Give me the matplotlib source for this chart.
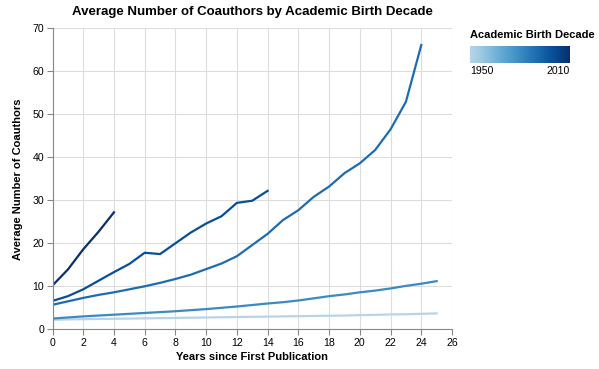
import numpy as np
import matplotlib.pyplot as plt
from matplotlib.colors import LinearSegmentedColormap

plt.rcParams['font.family'] = ['Liberation Sans', 'DejaVu Sans']

# academic birth decade of each line
decades = [1950, 1980, 1990, 2000, 2010]

# average number of coauthors per year since first publication
coauthors = {
    1950: [2.2, 2.3, 2.35, 2.4, 2.45, 2.5, 2.55, 2.6, 2.65, 2.7, 2.75, 2.8, 2.85,
           2.9, 2.95, 3.0, 3.05, 3.1, 3.15, 3.2, 3.3, 3.35, 3.45, 3.5, 3.6, 3.7],
    1980: [2.5, 2.75, 3.0, 3.2, 3.4, 3.6, 3.8, 4.0, 4.2, 4.45, 4.7, 5.0, 5.3,
           5.65, 6.0, 6.3, 6.7, 7.2, 7.7, 8.1, 8.6, 9.0, 9.5, 10.1, 10.6, 11.2],
    1990: [5.7, 6.5, 7.3, 8.0, 8.6, 9.3, 10.0, 10.8, 11.7, 12.7, 14.0, 15.3, 17.0,
           19.6, 22.2, 25.4, 27.7, 30.8, 33.2, 36.3, 38.6, 41.7, 46.5, 52.9, 66.1],
    2000: [6.6, 7.7, 9.3, 11.3, 13.3, 15.2, 17.8, 17.5, 20.0, 22.5, 24.6, 26.3,
           29.4, 29.9, 32.2],
    2010: [10.2, 13.9, 18.6, 22.7, 27.2],
}

x_ticks = list(range(0, 27, 2))
y_ticks = list(range(0, 71, 10))

# light-to-dark blues like the vega scheme
cmap = LinearSegmentedColormap.from_list(
    'blues', plt.cm.Blues(np.linspace(0.3, 1.0, 256)))

fig = plt.figure(figsize=(5.99, 3.69), dpi=100)
ax = fig.add_axes([52.5 / 599, 39.7 / 369, 399.5 / 599, 301 / 369])

for d in decades:
    vals = coauthors[d]
    t = (d - decades[0]) / (decades[-1] - decades[0])
    ax.plot(range(len(vals)), vals, color=cmap(t), lw=1.6)

ax.set_xlim(0, 26)
ax.set_ylim(0, 70)
ax.set_xticks(x_ticks)
ax.set_yticks(y_ticks)
ax.grid(True, color='#dddddd', lw=0.8)
ax.set_axisbelow(True)
for s in ['top', 'right']:
    ax.spines[s].set_visible(False)
for s in ['left', 'bottom']:
    ax.spines[s].set_color('#888888')
ax.tick_params(colors='#888888', length=4, labelcolor='black', labelsize=7.6, pad=2)
ax.set_xlabel('Years since First Publication', fontsize=8, fontweight='bold', labelpad=3)
ax.set_ylabel('Average Number of Coauthors', fontsize=8, fontweight='bold', labelpad=7)
fig.text(252 / 599, 1 - 12 / 369, 'Average Number of Coauthors by Academic Birth Decade',
         ha='center', va='center', fontsize=9.5, fontweight='bold')

# gradient legend
fig.text(470 / 599, 1 - 35 / 369, 'Academic Birth Decade', ha='left', va='center',
         fontsize=8, fontweight='bold')
lax = fig.add_axes([470 / 599, 306 / 369, 100 / 599, 17 / 369])
lax.imshow(np.linspace(0, 1, 256)[None, :], aspect='auto', cmap=cmap)
lax.set_axis_off()
fig.text(470 / 599, 1 - 71 / 369, str(decades[0]), ha='left', va='center', fontsize=7.6)
fig.text(570 / 599, 1 - 71 / 369, str(decades[-1]), ha='right', va='center', fontsize=7.6)

fig.savefig('out.png', dpi=100)
